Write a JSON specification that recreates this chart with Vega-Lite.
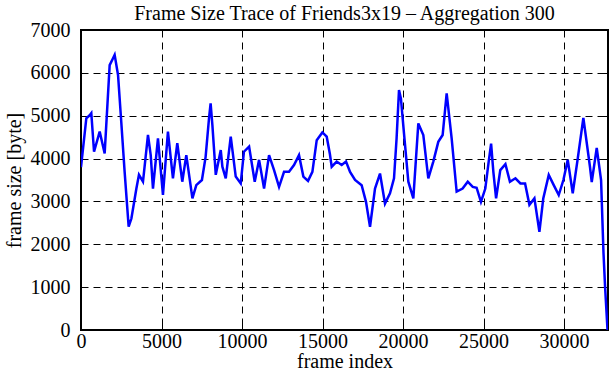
{
  "$schema": "https://vega.github.io/schema/vega-lite/v6.json",
  "width": 527,
  "height": 300,
  "autosize": "none",
  "padding": {"left": 81, "top": 30, "right": 3, "bottom": 50},
  "background": "white",
  "config": {"font": "Liberation Serif", "view": {"stroke": "black", "strokeWidth": 2}},
  "title": {"text": "Frame Size Trace of Friends3x19 – Aggregation 300", "font": "Liberation Serif", "fontSize": 20, "fontWeight": "normal", "color": "black", "offset": -4},
  "data": {"values": [
    {"frame": 0, "size": 3800}, {"frame": 330, "size": 4940}, {"frame": 540, "size": 5010}, {"frame": 640, "size": 5060},
    {"frame": 810, "size": 4160}, {"frame": 1160, "size": 4630}, {"frame": 1470, "size": 4120}, {"frame": 1780, "size": 6180},
    {"frame": 1990, "size": 6340}, {"frame": 2090, "size": 6420}, {"frame": 2300, "size": 5950}, {"frame": 2500, "size": 4860},
    {"frame": 2710, "size": 3690}, {"frame": 2960, "size": 2410}, {"frame": 3130, "size": 2600}, {"frame": 3440, "size": 3300},
    {"frame": 3600, "size": 3620}, {"frame": 3850, "size": 3460}, {"frame": 4160, "size": 4550}, {"frame": 4330, "size": 4080},
    {"frame": 4470, "size": 3300}, {"frame": 4780, "size": 4470}, {"frame": 5090, "size": 3150}, {"frame": 5400, "size": 4630},
    {"frame": 5710, "size": 3540}, {"frame": 5980, "size": 4360}, {"frame": 6290, "size": 3460}, {"frame": 6540, "size": 4080},
    {"frame": 6920, "size": 3070}, {"frame": 7160, "size": 3380}, {"frame": 7510, "size": 3500}, {"frame": 7740, "size": 4040},
    {"frame": 7950, "size": 4940}, {"frame": 8050, "size": 5290}, {"frame": 8160, "size": 4780}, {"frame": 8370, "size": 3620},
    {"frame": 8680, "size": 4200}, {"frame": 8780, "size": 3810}, {"frame": 8990, "size": 3540}, {"frame": 9300, "size": 4510},
    {"frame": 9610, "size": 3580}, {"frame": 9920, "size": 3420}, {"frame": 10120, "size": 4160}, {"frame": 10440, "size": 4280},
    {"frame": 10790, "size": 3460}, {"frame": 11060, "size": 3970}, {"frame": 11370, "size": 3300}, {"frame": 11680, "size": 4080},
    {"frame": 11990, "size": 3730}, {"frame": 12300, "size": 3340}, {"frame": 12610, "size": 3690}, {"frame": 12920, "size": 3690},
    {"frame": 13230, "size": 3850}, {"frame": 13540, "size": 4080}, {"frame": 13810, "size": 3580}, {"frame": 14100, "size": 3480},
    {"frame": 14370, "size": 3690}, {"frame": 14640, "size": 4430}, {"frame": 14990, "size": 4610}, {"frame": 15260, "size": 4510},
    {"frame": 15460, "size": 4100}, {"frame": 15570, "size": 3810}, {"frame": 15880, "size": 3930}, {"frame": 16190, "size": 3850},
    {"frame": 16460, "size": 3930}, {"frame": 16710, "size": 3690}, {"frame": 17020, "size": 3500}, {"frame": 17430, "size": 3380},
    {"frame": 17700, "size": 2990}, {"frame": 17950, "size": 2410}, {"frame": 18260, "size": 3300}, {"frame": 18570, "size": 3650},
    {"frame": 18880, "size": 2950}, {"frame": 19190, "size": 3190}, {"frame": 19440, "size": 3540}, {"frame": 19600, "size": 4470},
    {"frame": 19750, "size": 5600}, {"frame": 19870, "size": 5400}, {"frame": 20060, "size": 4590}, {"frame": 20330, "size": 3460},
    {"frame": 20640, "size": 3070}, {"frame": 20950, "size": 4820}, {"frame": 21260, "size": 4550}, {"frame": 21570, "size": 3540},
    {"frame": 21880, "size": 3930}, {"frame": 22190, "size": 4390}, {"frame": 22460, "size": 4550}, {"frame": 22710, "size": 5520},
    {"frame": 23020, "size": 4470}, {"frame": 23330, "size": 3230}, {"frame": 23700, "size": 3300}, {"frame": 24020, "size": 3460},
    {"frame": 24330, "size": 3340}, {"frame": 24570, "size": 3320}, {"frame": 24840, "size": 2990}, {"frame": 25110, "size": 3300},
    {"frame": 25320, "size": 3930}, {"frame": 25470, "size": 4350}, {"frame": 25610, "size": 3690}, {"frame": 25780, "size": 3070},
    {"frame": 26040, "size": 3730}, {"frame": 26360, "size": 3870}, {"frame": 26640, "size": 3460}, {"frame": 26980, "size": 3540},
    {"frame": 27290, "size": 3420}, {"frame": 27580, "size": 3420}, {"frame": 27850, "size": 2920}, {"frame": 28160, "size": 3070},
    {"frame": 28470, "size": 2290}, {"frame": 28710, "size": 3070}, {"frame": 29050, "size": 3620}, {"frame": 29360, "size": 3380},
    {"frame": 29670, "size": 3150}, {"frame": 29960, "size": 3500}, {"frame": 30230, "size": 3970}, {"frame": 30540, "size": 3190},
    {"frame": 30850, "size": 4000}, {"frame": 31200, "size": 4950}, {"frame": 31610, "size": 3810}, {"frame": 31720, "size": 3450},
    {"frame": 32030, "size": 4250}, {"frame": 32300, "size": 3500}, {"frame": 32450, "size": 1800}, {"frame": 32550, "size": 1000},
    {"frame": 32700, "size": 0}
  ]},
  "resolve": {"axis": {"x": "independent", "y": "independent"}},
  "layer": [
    {
      "mark": {"type": "line", "color": "#0000ff", "strokeWidth": 2.5, "clip": true},
      "encoding": {
        "x": {"field": "frame", "type": "quantitative",
          "scale": {"domain": [0, 32730], "nice": false, "zero": false},
          "axis": {"title": "frame index", "values": [0, 5000, 10000, 15000, 20000, 25000, 30000], "format": "d",
            "grid": true, "gridColor": "black", "gridDash": [7, 5], "gridWidth": 1, "gridOpacity": 1,
            "domain": false, "tickColor": "black", "tickSize": -6, "tickWidth": 1,
            "labelFont": "Liberation Serif", "labelFontSize": 20, "labelColor": "black", "labelPadding": 7,
            "labelFlush": false, "labelOverlap": false,
            "titleFont": "Liberation Serif", "titleFontSize": 20, "titleFontWeight": "normal", "titleColor": "black", "titlePadding": 0}},
        "y": {"field": "size", "type": "quantitative",
          "scale": {"domain": [0, 7000], "nice": false, "zero": false},
          "axis": {"title": "frame size [byte]", "values": [0, 1000, 2000, 3000, 4000, 5000, 6000, 7000], "format": "d",
            "grid": true, "gridColor": "black", "gridDash": [7, 5], "gridWidth": 1, "gridOpacity": 1,
            "domain": false, "tickColor": "black", "tickSize": -6, "tickWidth": 1,
            "labelFont": "Liberation Serif", "labelFontSize": 20, "labelColor": "black", "labelPadding": 17,
            "labelFlush": false, "labelOverlap": false,
            "titleFont": "Liberation Serif", "titleFontSize": 20, "titleFontWeight": "normal", "titleColor": "black", "titlePadding": 6}}
      }
    },
    {
      "mark": {"type": "line", "opacity": 0},
      "encoding": {
        "x": {"field": "frame", "type": "quantitative",
          "scale": {"domain": [0, 32730], "nice": false, "zero": false},
          "axis": {"orient": "top", "title": null, "values": [0, 5000, 10000, 15000, 20000, 25000, 30000],
            "labels": false, "grid": false, "domain": false, "tickColor": "black", "tickSize": -6, "tickWidth": 1}},
        "y": {"field": "size", "type": "quantitative",
          "scale": {"domain": [0, 7000], "nice": false, "zero": false},
          "axis": {"orient": "right", "title": null, "values": [0, 1000, 2000, 3000, 4000, 5000, 6000, 7000],
            "labels": false, "grid": false, "domain": false, "tickColor": "black", "tickSize": -6, "tickWidth": 1}}
      }
    }
  ]
}
